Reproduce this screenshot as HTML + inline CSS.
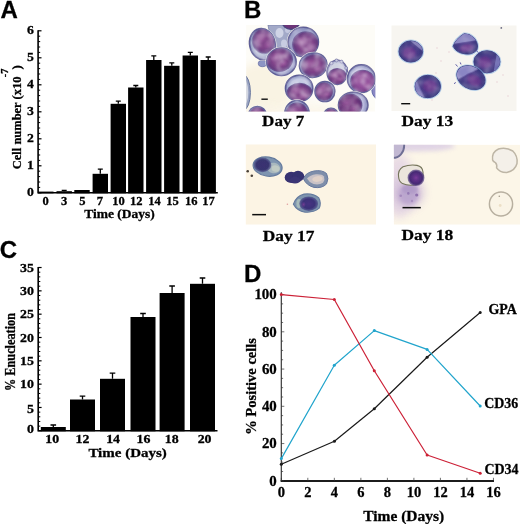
<!DOCTYPE html>
<html><head><meta charset="utf-8"><title>Figure</title>
<style>
html,body{margin:0;padding:0;background:#fff;}
body{width:520px;height:524px;overflow:hidden;font-family:"Liberation Serif",serif;}
svg{display:block;}
text{stroke:#000;stroke-width:0.28px;}
</style></head><body>
<svg width="520" height="524" viewBox="0 0 520 524">
<rect width="520" height="524" fill="#fff"/>
<defs><filter id="soft" x="0" y="0" width="100%" height="100%" filterUnits="userSpaceOnUse"><feGaussianBlur stdDeviation="0.38"/></filter></defs>
<g filter="url(#soft)">
<text x="0.4" y="17.6" font-family='"Liberation Sans", sans-serif' font-weight="bold" font-size="24" text-anchor="start" >A</text>
<text x="243.9" y="17.7" font-family='"Liberation Sans", sans-serif' font-weight="bold" font-size="24" text-anchor="start" >B</text>
<text x="-0.2" y="258.4" font-family='"Liberation Sans", sans-serif' font-weight="bold" font-size="24" text-anchor="start" >C</text>
<text x="244" y="281.7" font-family='"Liberation Sans", sans-serif' font-weight="bold" font-size="24" text-anchor="start" >D</text>
<g id="pa">
<path d="M38.1 30.20000000000001 V192.8 H217.8" stroke="#000" stroke-width="1.6" fill="none"/>
<line x1="38.1" x2="41.5" y1="192.80" y2="192.80" stroke="#000" stroke-width="1.2"/>
<line x1="38.1" x2="40.2" y1="187.40" y2="187.40" stroke="#000" stroke-width="1.0"/>
<line x1="38.1" x2="40.2" y1="182.00" y2="182.00" stroke="#000" stroke-width="1.0"/>
<line x1="38.1" x2="40.2" y1="176.60" y2="176.60" stroke="#000" stroke-width="1.0"/>
<line x1="38.1" x2="40.2" y1="171.20" y2="171.20" stroke="#000" stroke-width="1.0"/>
<line x1="38.1" x2="41.5" y1="165.80" y2="165.80" stroke="#000" stroke-width="1.2"/>
<line x1="38.1" x2="40.2" y1="160.40" y2="160.40" stroke="#000" stroke-width="1.0"/>
<line x1="38.1" x2="40.2" y1="155.00" y2="155.00" stroke="#000" stroke-width="1.0"/>
<line x1="38.1" x2="40.2" y1="149.60" y2="149.60" stroke="#000" stroke-width="1.0"/>
<line x1="38.1" x2="40.2" y1="144.20" y2="144.20" stroke="#000" stroke-width="1.0"/>
<line x1="38.1" x2="41.5" y1="138.80" y2="138.80" stroke="#000" stroke-width="1.2"/>
<line x1="38.1" x2="40.2" y1="133.40" y2="133.40" stroke="#000" stroke-width="1.0"/>
<line x1="38.1" x2="40.2" y1="128.00" y2="128.00" stroke="#000" stroke-width="1.0"/>
<line x1="38.1" x2="40.2" y1="122.60" y2="122.60" stroke="#000" stroke-width="1.0"/>
<line x1="38.1" x2="40.2" y1="117.20" y2="117.20" stroke="#000" stroke-width="1.0"/>
<line x1="38.1" x2="41.5" y1="111.80" y2="111.80" stroke="#000" stroke-width="1.2"/>
<line x1="38.1" x2="40.2" y1="106.40" y2="106.40" stroke="#000" stroke-width="1.0"/>
<line x1="38.1" x2="40.2" y1="101.00" y2="101.00" stroke="#000" stroke-width="1.0"/>
<line x1="38.1" x2="40.2" y1="95.60" y2="95.60" stroke="#000" stroke-width="1.0"/>
<line x1="38.1" x2="40.2" y1="90.20" y2="90.20" stroke="#000" stroke-width="1.0"/>
<line x1="38.1" x2="41.5" y1="84.80" y2="84.80" stroke="#000" stroke-width="1.2"/>
<line x1="38.1" x2="40.2" y1="79.40" y2="79.40" stroke="#000" stroke-width="1.0"/>
<line x1="38.1" x2="40.2" y1="74.00" y2="74.00" stroke="#000" stroke-width="1.0"/>
<line x1="38.1" x2="40.2" y1="68.60" y2="68.60" stroke="#000" stroke-width="1.0"/>
<line x1="38.1" x2="40.2" y1="63.20" y2="63.20" stroke="#000" stroke-width="1.0"/>
<line x1="38.1" x2="41.5" y1="57.80" y2="57.80" stroke="#000" stroke-width="1.2"/>
<line x1="38.1" x2="40.2" y1="52.40" y2="52.40" stroke="#000" stroke-width="1.0"/>
<line x1="38.1" x2="40.2" y1="47.00" y2="47.00" stroke="#000" stroke-width="1.0"/>
<line x1="38.1" x2="40.2" y1="41.60" y2="41.60" stroke="#000" stroke-width="1.0"/>
<line x1="38.1" x2="40.2" y1="36.20" y2="36.20" stroke="#000" stroke-width="1.0"/>
<line x1="38.1" x2="41.5" y1="30.80" y2="30.80" stroke="#000" stroke-width="1.2"/>
<text transform="translate(33.8,195.7) scale(1.1,1)" font-family='"Liberation Serif", serif' font-weight="bold" font-size="12.5" text-anchor="end" >0</text>
<text transform="translate(33.8,168.7) scale(1.1,1)" font-family='"Liberation Serif", serif' font-weight="bold" font-size="12.5" text-anchor="end" >1</text>
<text transform="translate(33.8,141.7) scale(1.1,1)" font-family='"Liberation Serif", serif' font-weight="bold" font-size="12.5" text-anchor="end" >2</text>
<text transform="translate(33.8,114.7) scale(1.1,1)" font-family='"Liberation Serif", serif' font-weight="bold" font-size="12.5" text-anchor="end" >3</text>
<text transform="translate(33.8,87.7) scale(1.1,1)" font-family='"Liberation Serif", serif' font-weight="bold" font-size="12.5" text-anchor="end" >4</text>
<text transform="translate(33.8,60.7) scale(1.1,1)" font-family='"Liberation Serif", serif' font-weight="bold" font-size="12.5" text-anchor="end" >5</text>
<text transform="translate(33.8,33.7) scale(1.1,1)" font-family='"Liberation Serif", serif' font-weight="bold" font-size="12.5" text-anchor="end" >6</text>
<rect x="38.1" y="191.6" width="15.4" height="1.70" fill="#000"/>
<rect x="56.5" y="191.2" width="15.4" height="2.10" fill="#000"/>
<path d="M64.20 191.2 V190.4 M61.70 190.4 H66.70" stroke="#000" stroke-width="1.3" fill="none"/>
<rect x="74.3" y="190.0" width="15.4" height="3.30" fill="#000"/>
<rect x="92.6" y="173.8" width="15.4" height="19.50" fill="#000"/>
<path d="M100.30 173.8 V169.2 M97.80 169.2 H102.80" stroke="#000" stroke-width="1.3" fill="none"/>
<rect x="110.6" y="103.8" width="15.4" height="89.50" fill="#000"/>
<path d="M118.30 103.8 V101.2 M115.80 101.2 H120.80" stroke="#000" stroke-width="1.3" fill="none"/>
<rect x="128.1" y="87.5" width="15.4" height="105.80" fill="#000"/>
<path d="M135.80 87.5 V85.5 M133.30 85.5 H138.30" stroke="#000" stroke-width="1.3" fill="none"/>
<rect x="146.1" y="60.0" width="15.4" height="133.30" fill="#000"/>
<path d="M153.80 60.0 V55.8 M151.30 55.8 H156.30" stroke="#000" stroke-width="1.3" fill="none"/>
<rect x="164.1" y="65.8" width="15.4" height="127.50" fill="#000"/>
<path d="M171.80 65.8 V62.8 M169.30 62.8 H174.30" stroke="#000" stroke-width="1.3" fill="none"/>
<rect x="182.6" y="55.5" width="15.4" height="137.80" fill="#000"/>
<path d="M190.30 55.5 V52.3 M187.80 52.3 H192.80" stroke="#000" stroke-width="1.3" fill="none"/>
<rect x="200.5" y="60.0" width="15.4" height="133.30" fill="#000"/>
<path d="M208.20 60.0 V57.0 M205.70 57.0 H210.70" stroke="#000" stroke-width="1.3" fill="none"/>
<text transform="translate(45.6,204.6) scale(1.08,1)" font-family='"Liberation Serif", serif' font-weight="bold" font-size="11.6" text-anchor="middle" >0</text>
<text transform="translate(64.2,204.6) scale(1.08,1)" font-family='"Liberation Serif", serif' font-weight="bold" font-size="11.6" text-anchor="middle" >3</text>
<text transform="translate(82.3,204.6) scale(1.08,1)" font-family='"Liberation Serif", serif' font-weight="bold" font-size="11.6" text-anchor="middle" >5</text>
<text transform="translate(100.0,204.6) scale(1.08,1)" font-family='"Liberation Serif", serif' font-weight="bold" font-size="11.6" text-anchor="middle" >7</text>
<text transform="translate(118.4,204.6) scale(1.08,1)" font-family='"Liberation Serif", serif' font-weight="bold" font-size="11.6" text-anchor="middle" >10</text>
<text transform="translate(136.2,204.6) scale(1.08,1)" font-family='"Liberation Serif", serif' font-weight="bold" font-size="11.6" text-anchor="middle" >12</text>
<text transform="translate(154.5,204.6) scale(1.08,1)" font-family='"Liberation Serif", serif' font-weight="bold" font-size="11.6" text-anchor="middle" >14</text>
<text transform="translate(172.6,204.6) scale(1.08,1)" font-family='"Liberation Serif", serif' font-weight="bold" font-size="11.6" text-anchor="middle" >15</text>
<text transform="translate(191.2,204.6) scale(1.08,1)" font-family='"Liberation Serif", serif' font-weight="bold" font-size="11.6" text-anchor="middle" >16</text>
<text transform="translate(208.6,204.6) scale(1.08,1)" font-family='"Liberation Serif", serif' font-weight="bold" font-size="11.6" text-anchor="middle" >17</text>
<text x="84.2" y="218.2" font-family='"Liberation Serif", serif' font-weight="bold" font-size="12.6" text-anchor="start" textLength="70.6" lengthAdjust="spacingAndGlyphs">Time (Days)</text>
<text transform="translate(20.7,169.2) rotate(-90)" font-family='"Liberation Serif", serif' font-weight="bold" font-size="13" textLength="92.6" lengthAdjust="spacingAndGlyphs">Cell number (x10</text>
<text transform="translate(8.3,77.3) rotate(-90)" font-family='"Liberation Serif", serif' font-weight="bold" font-size="9.5" textLength="8.6" lengthAdjust="spacingAndGlyphs">-7</text>
<text transform="translate(20.7,69.6) rotate(-90)" font-family='"Liberation Serif", serif' font-weight="bold" font-size="13">)</text>
</g>
<g id="pc">
<path d="M38.2 266.92 V430.8 H217.5" stroke="#000" stroke-width="1.6" fill="none"/>
<line x1="38.2" x2="41.6" y1="430.80" y2="430.80" stroke="#000" stroke-width="1.2"/>
<line x1="38.2" x2="40.300000000000004" y1="426.13" y2="426.13" stroke="#000" stroke-width="1.0"/>
<line x1="38.2" x2="40.300000000000004" y1="421.47" y2="421.47" stroke="#000" stroke-width="1.0"/>
<line x1="38.2" x2="40.300000000000004" y1="416.81" y2="416.81" stroke="#000" stroke-width="1.0"/>
<line x1="38.2" x2="40.300000000000004" y1="412.14" y2="412.14" stroke="#000" stroke-width="1.0"/>
<line x1="38.2" x2="41.6" y1="407.48" y2="407.48" stroke="#000" stroke-width="1.2"/>
<line x1="38.2" x2="40.300000000000004" y1="402.81" y2="402.81" stroke="#000" stroke-width="1.0"/>
<line x1="38.2" x2="40.300000000000004" y1="398.14" y2="398.14" stroke="#000" stroke-width="1.0"/>
<line x1="38.2" x2="40.300000000000004" y1="393.48" y2="393.48" stroke="#000" stroke-width="1.0"/>
<line x1="38.2" x2="40.300000000000004" y1="388.81" y2="388.81" stroke="#000" stroke-width="1.0"/>
<line x1="38.2" x2="41.6" y1="384.15" y2="384.15" stroke="#000" stroke-width="1.2"/>
<line x1="38.2" x2="40.300000000000004" y1="379.49" y2="379.49" stroke="#000" stroke-width="1.0"/>
<line x1="38.2" x2="40.300000000000004" y1="374.82" y2="374.82" stroke="#000" stroke-width="1.0"/>
<line x1="38.2" x2="40.300000000000004" y1="370.16" y2="370.16" stroke="#000" stroke-width="1.0"/>
<line x1="38.2" x2="40.300000000000004" y1="365.49" y2="365.49" stroke="#000" stroke-width="1.0"/>
<line x1="38.2" x2="41.6" y1="360.83" y2="360.83" stroke="#000" stroke-width="1.2"/>
<line x1="38.2" x2="40.300000000000004" y1="356.16" y2="356.16" stroke="#000" stroke-width="1.0"/>
<line x1="38.2" x2="40.300000000000004" y1="351.50" y2="351.50" stroke="#000" stroke-width="1.0"/>
<line x1="38.2" x2="40.300000000000004" y1="346.83" y2="346.83" stroke="#000" stroke-width="1.0"/>
<line x1="38.2" x2="40.300000000000004" y1="342.17" y2="342.17" stroke="#000" stroke-width="1.0"/>
<line x1="38.2" x2="41.6" y1="337.50" y2="337.50" stroke="#000" stroke-width="1.2"/>
<line x1="38.2" x2="40.300000000000004" y1="332.84" y2="332.84" stroke="#000" stroke-width="1.0"/>
<line x1="38.2" x2="40.300000000000004" y1="328.17" y2="328.17" stroke="#000" stroke-width="1.0"/>
<line x1="38.2" x2="40.300000000000004" y1="323.50" y2="323.50" stroke="#000" stroke-width="1.0"/>
<line x1="38.2" x2="40.300000000000004" y1="318.84" y2="318.84" stroke="#000" stroke-width="1.0"/>
<line x1="38.2" x2="41.6" y1="314.18" y2="314.18" stroke="#000" stroke-width="1.2"/>
<line x1="38.2" x2="40.300000000000004" y1="309.51" y2="309.51" stroke="#000" stroke-width="1.0"/>
<line x1="38.2" x2="40.300000000000004" y1="304.85" y2="304.85" stroke="#000" stroke-width="1.0"/>
<line x1="38.2" x2="40.300000000000004" y1="300.18" y2="300.18" stroke="#000" stroke-width="1.0"/>
<line x1="38.2" x2="40.300000000000004" y1="295.51" y2="295.51" stroke="#000" stroke-width="1.0"/>
<line x1="38.2" x2="41.6" y1="290.85" y2="290.85" stroke="#000" stroke-width="1.2"/>
<line x1="38.2" x2="40.300000000000004" y1="286.19" y2="286.19" stroke="#000" stroke-width="1.0"/>
<line x1="38.2" x2="40.300000000000004" y1="281.52" y2="281.52" stroke="#000" stroke-width="1.0"/>
<line x1="38.2" x2="40.300000000000004" y1="276.86" y2="276.86" stroke="#000" stroke-width="1.0"/>
<line x1="38.2" x2="40.300000000000004" y1="272.19" y2="272.19" stroke="#000" stroke-width="1.0"/>
<line x1="38.2" x2="41.6" y1="267.52" y2="267.52" stroke="#000" stroke-width="1.2"/>
<text transform="translate(34.0,433.3) scale(1.15,1)" font-family='"Liberation Serif", serif' font-weight="bold" font-size="12.1" text-anchor="end" >0</text>
<text transform="translate(34.0,412.68) scale(1.15,1)" font-family='"Liberation Serif", serif' font-weight="bold" font-size="12.1" text-anchor="end" >5</text>
<text transform="translate(34.0,388.15) scale(1.15,1)" font-family='"Liberation Serif", serif' font-weight="bold" font-size="12.1" text-anchor="end" >10</text>
<text transform="translate(34.0,364.83) scale(1.15,1)" font-family='"Liberation Serif", serif' font-weight="bold" font-size="12.1" text-anchor="end" >15</text>
<text transform="translate(34.0,341.5) scale(1.15,1)" font-family='"Liberation Serif", serif' font-weight="bold" font-size="12.1" text-anchor="end" >20</text>
<text transform="translate(34.0,318.18) scale(1.15,1)" font-family='"Liberation Serif", serif' font-weight="bold" font-size="12.1" text-anchor="end" >25</text>
<text transform="translate(34.0,294.85) scale(1.15,1)" font-family='"Liberation Serif", serif' font-weight="bold" font-size="12.1" text-anchor="end" >30</text>
<text transform="translate(34.0,271.52) scale(1.15,1)" font-family='"Liberation Serif", serif' font-weight="bold" font-size="12.1" text-anchor="end" >35</text>
<rect x="40.8" y="427.0" width="25" height="4.30" fill="#000"/>
<path d="M53.30 427.0 V425.0 M50.50 425.0 H56.10" stroke="#000" stroke-width="1.3" fill="none"/>
<rect x="70.0" y="399.5" width="25" height="31.80" fill="#000"/>
<path d="M82.50 399.5 V396.2 M79.70 396.2 H85.30" stroke="#000" stroke-width="1.3" fill="none"/>
<rect x="100.0" y="378.8" width="25" height="52.50" fill="#000"/>
<path d="M112.50 378.8 V373.2 M109.70 373.2 H115.30" stroke="#000" stroke-width="1.3" fill="none"/>
<rect x="130.5" y="317.0" width="25" height="114.30" fill="#000"/>
<path d="M143.00 317.0 V313.5 M140.20 313.5 H145.80" stroke="#000" stroke-width="1.3" fill="none"/>
<rect x="159.6" y="293.0" width="25" height="138.30" fill="#000"/>
<path d="M172.10 293.0 V286.0 M169.30 286.0 H174.90" stroke="#000" stroke-width="1.3" fill="none"/>
<rect x="190.0" y="283.8" width="25" height="147.50" fill="#000"/>
<path d="M202.50 283.8 V278.0 M199.70 278.0 H205.30" stroke="#000" stroke-width="1.3" fill="none"/>
<text transform="translate(52.3,442.9) scale(1.15,1)" font-family='"Liberation Serif", serif' font-weight="bold" font-size="12.1" text-anchor="middle" >10</text>
<text transform="translate(82.4,442.9) scale(1.15,1)" font-family='"Liberation Serif", serif' font-weight="bold" font-size="12.1" text-anchor="middle" >12</text>
<text transform="translate(113.1,442.9) scale(1.15,1)" font-family='"Liberation Serif", serif' font-weight="bold" font-size="12.1" text-anchor="middle" >14</text>
<text transform="translate(143.4,442.9) scale(1.15,1)" font-family='"Liberation Serif", serif' font-weight="bold" font-size="12.1" text-anchor="middle" >16</text>
<text transform="translate(171.8,442.9) scale(1.15,1)" font-family='"Liberation Serif", serif' font-weight="bold" font-size="12.1" text-anchor="middle" >18</text>
<text transform="translate(204.6,442.9) scale(1.15,1)" font-family='"Liberation Serif", serif' font-weight="bold" font-size="12.1" text-anchor="middle" >20</text>
<text x="88.4" y="456.9" font-family='"Liberation Serif", serif' font-weight="bold" font-size="13.2" text-anchor="start" textLength="78.4" lengthAdjust="spacingAndGlyphs">Time (Days)</text>
<text transform="translate(15.4,391) rotate(-90)" font-family='"Liberation Serif", serif' font-weight="bold" font-size="13.6" textLength="78" lengthAdjust="spacingAndGlyphs">% Enucleation</text>
</g>
<g id="pd">
<path d="M281.3 292.35 V480.8" stroke="#303030" stroke-width="1.15" fill="none"/>
<path d="M280.6 481.0 H494" stroke="#1c1c1c" stroke-width="1.9" fill="none"/>
<line x1="281.3" x2="284.3" y1="480.8" y2="480.8" stroke="#333" stroke-width="0.7"/>
<line x1="281.3" x2="283.1" y1="471.49" y2="471.49" stroke="#333" stroke-width="0.7"/>
<line x1="281.3" x2="283.1" y1="462.18" y2="462.18" stroke="#333" stroke-width="0.7"/>
<line x1="281.3" x2="283.1" y1="452.86" y2="452.86" stroke="#333" stroke-width="0.7"/>
<line x1="281.3" x2="284.3" y1="443.55" y2="443.55" stroke="#333" stroke-width="0.7"/>
<line x1="281.3" x2="283.1" y1="434.24" y2="434.24" stroke="#333" stroke-width="0.7"/>
<line x1="281.3" x2="283.1" y1="424.93" y2="424.93" stroke="#333" stroke-width="0.7"/>
<line x1="281.3" x2="283.1" y1="415.61" y2="415.61" stroke="#333" stroke-width="0.7"/>
<line x1="281.3" x2="284.3" y1="406.3" y2="406.3" stroke="#333" stroke-width="0.7"/>
<line x1="281.3" x2="283.1" y1="396.99" y2="396.99" stroke="#333" stroke-width="0.7"/>
<line x1="281.3" x2="283.1" y1="387.68" y2="387.68" stroke="#333" stroke-width="0.7"/>
<line x1="281.3" x2="283.1" y1="378.36" y2="378.36" stroke="#333" stroke-width="0.7"/>
<line x1="281.3" x2="284.3" y1="369.05" y2="369.05" stroke="#333" stroke-width="0.7"/>
<line x1="281.3" x2="283.1" y1="359.74" y2="359.74" stroke="#333" stroke-width="0.7"/>
<line x1="281.3" x2="283.1" y1="350.43" y2="350.43" stroke="#333" stroke-width="0.7"/>
<line x1="281.3" x2="283.1" y1="341.11" y2="341.11" stroke="#333" stroke-width="0.7"/>
<line x1="281.3" x2="284.3" y1="331.8" y2="331.8" stroke="#333" stroke-width="0.7"/>
<line x1="281.3" x2="283.1" y1="322.49" y2="322.49" stroke="#333" stroke-width="0.7"/>
<line x1="281.3" x2="283.1" y1="313.18" y2="313.18" stroke="#333" stroke-width="0.7"/>
<line x1="281.3" x2="283.1" y1="303.86" y2="303.86" stroke="#333" stroke-width="0.7"/>
<line x1="281.3" x2="284.3" y1="294.55" y2="294.55" stroke="#333" stroke-width="0.7"/>
<line x1="281.3" x2="281.3" y1="480.8" y2="477.8" stroke="#333" stroke-width="0.7"/>
<line x1="307.82" x2="307.82" y1="480.8" y2="477.8" stroke="#333" stroke-width="0.7"/>
<line x1="334.34" x2="334.34" y1="480.8" y2="477.8" stroke="#333" stroke-width="0.7"/>
<line x1="360.86" x2="360.86" y1="480.8" y2="477.8" stroke="#333" stroke-width="0.7"/>
<line x1="387.38" x2="387.38" y1="480.8" y2="477.8" stroke="#333" stroke-width="0.7"/>
<line x1="413.9" x2="413.9" y1="480.8" y2="477.8" stroke="#333" stroke-width="0.7"/>
<line x1="440.42" x2="440.42" y1="480.8" y2="477.8" stroke="#333" stroke-width="0.7"/>
<line x1="466.94" x2="466.94" y1="480.8" y2="477.8" stroke="#333" stroke-width="0.7"/>
<line x1="493.46" x2="493.46" y1="480.8" y2="477.8" stroke="#333" stroke-width="0.7"/>
<text transform="translate(276.8,485.6) scale(1.03,1)" font-family='"Liberation Serif", serif' font-weight="bold" font-size="14.5" text-anchor="end" >0</text>
<text transform="translate(276.8,448.35) scale(1.03,1)" font-family='"Liberation Serif", serif' font-weight="bold" font-size="14.5" text-anchor="end" >20</text>
<text transform="translate(276.8,411.1) scale(1.03,1)" font-family='"Liberation Serif", serif' font-weight="bold" font-size="14.5" text-anchor="end" >40</text>
<text transform="translate(276.8,373.85) scale(1.03,1)" font-family='"Liberation Serif", serif' font-weight="bold" font-size="14.5" text-anchor="end" >60</text>
<text transform="translate(276.8,336.6) scale(1.03,1)" font-family='"Liberation Serif", serif' font-weight="bold" font-size="14.5" text-anchor="end" >80</text>
<text transform="translate(276.8,299.35) scale(1.03,1)" font-family='"Liberation Serif", serif' font-weight="bold" font-size="14.5" text-anchor="end" >100</text>
<text x="281.3" y="496.6" font-family='"Liberation Serif", serif' font-weight="bold" font-size="14.5" text-anchor="middle" >0</text>
<text x="307.82" y="496.6" font-family='"Liberation Serif", serif' font-weight="bold" font-size="14.5" text-anchor="middle" >2</text>
<text x="334.34" y="496.6" font-family='"Liberation Serif", serif' font-weight="bold" font-size="14.5" text-anchor="middle" >4</text>
<text x="360.86" y="496.6" font-family='"Liberation Serif", serif' font-weight="bold" font-size="14.5" text-anchor="middle" >6</text>
<text x="387.38" y="496.6" font-family='"Liberation Serif", serif' font-weight="bold" font-size="14.5" text-anchor="middle" >8</text>
<text x="413.9" y="496.6" font-family='"Liberation Serif", serif' font-weight="bold" font-size="14.5" text-anchor="middle" >10</text>
<text x="440.42" y="496.6" font-family='"Liberation Serif", serif' font-weight="bold" font-size="14.5" text-anchor="middle" >12</text>
<text x="466.94" y="496.6" font-family='"Liberation Serif", serif' font-weight="bold" font-size="14.5" text-anchor="middle" >14</text>
<text x="493.46" y="496.6" font-family='"Liberation Serif", serif' font-weight="bold" font-size="14.5" text-anchor="middle" >16</text>
<text x="363.2" y="520.5" font-family='"Liberation Serif", serif' font-weight="bold" font-size="13.8" text-anchor="start" textLength="81" lengthAdjust="spacingAndGlyphs">Time (Days)</text>
<text transform="translate(256.2,434.8) rotate(-90)" font-family='"Liberation Serif", serif' font-weight="bold" font-size="14.5" textLength="96.8" lengthAdjust="spacingAndGlyphs">% Positive cells</text>
<path d="M281.3 464.2 L334.4 441.3 L374.3 408.8 L427.1 357.2 L480.2 312.5" stroke="#1a1a1a" stroke-width="1.2" fill="none" stroke-linejoin="round"/>
<circle cx="281.3" cy="464.2" r="1.5" fill="#1a1a1a"/>
<circle cx="334.4" cy="441.3" r="1.5" fill="#1a1a1a"/>
<circle cx="374.3" cy="408.8" r="1.5" fill="#1a1a1a"/>
<circle cx="427.1" cy="357.2" r="1.5" fill="#1a1a1a"/>
<circle cx="480.2" cy="312.5" r="1.5" fill="#1a1a1a"/>
<path d="M281.3 458.6 L334.3 365.3 L374.3 330.6 L427.1 349.4 L480.2 406.0" stroke="#20a4cc" stroke-width="1.2" fill="none" stroke-linejoin="round"/>
<circle cx="281.3" cy="458.6" r="1.5" fill="#20a4cc"/>
<circle cx="334.3" cy="365.3" r="1.5" fill="#20a4cc"/>
<circle cx="374.3" cy="330.6" r="1.5" fill="#20a4cc"/>
<circle cx="427.1" cy="349.4" r="1.5" fill="#20a4cc"/>
<circle cx="480.2" cy="406.0" r="1.5" fill="#20a4cc"/>
<path d="M281.3 294.6 L334.3 299.5 L374.3 370.7 L427.1 455.0 L480.2 473.2" stroke="#cc2036" stroke-width="1.2" fill="none" stroke-linejoin="round"/>
<circle cx="281.3" cy="294.6" r="1.5" fill="#cc2036"/>
<circle cx="334.3" cy="299.5" r="1.5" fill="#cc2036"/>
<circle cx="374.3" cy="370.7" r="1.5" fill="#cc2036"/>
<circle cx="427.1" cy="455.0" r="1.5" fill="#cc2036"/>
<circle cx="480.2" cy="473.2" r="1.5" fill="#cc2036"/>
<text x="488.5" y="314.4" font-family='"Liberation Serif", serif' font-weight="bold" font-size="14" text-anchor="start" textLength="28.4" lengthAdjust="spacingAndGlyphs">GPA</text>
<text x="484.2" y="408.4" font-family='"Liberation Serif", serif' font-weight="bold" font-size="14" text-anchor="start" textLength="34" lengthAdjust="spacingAndGlyphs">CD36</text>
<text x="484.4" y="474.3" font-family='"Liberation Serif", serif' font-weight="bold" font-size="14" text-anchor="start" textLength="34.2" lengthAdjust="spacingAndGlyphs">CD34</text>
</g>
<defs><filter id="b05" x="-20%" y="-20%" width="140%" height="140%"><feGaussianBlur stdDeviation="0.7"/></filter><filter id="b1" x="-30%" y="-30%" width="160%" height="160%"><feGaussianBlur stdDeviation="1.1"/></filter><filter id="b2" x="-40%" y="-40%" width="180%" height="180%"><feGaussianBlur stdDeviation="2.2"/></filter><filter id="noise" x="0" y="0" width="100%" height="100%"><feTurbulence type="fractalNoise" baseFrequency="0.13" numOctaves="2" seed="7"/><feColorMatrix type="matrix" values="0 0 0 0 0.86  0 0 0 0 0.80  0 0 0 0 0.90  1.1 0 0 0 -0.40"/><feGaussianBlur stdDeviation="0.8"/></filter><filter id="b4" x="-50%" y="-50%" width="200%" height="200%"><feGaussianBlur stdDeviation="4"/></filter><clipPath id="c7"><rect x="246.2" y="25.1" width="129.2" height="86.3"/></clipPath><radialGradient id="g1" cx="0.5" cy="0.5" r="0.5"><stop offset="0" stop-color="#b8c2d8"/><stop offset="0.7" stop-color="#b8c2d8"/><stop offset="1" stop-color="#8088b8"/></radialGradient><radialGradient id="g2" cx="0.5" cy="0.5" r="0.5"><stop offset="0" stop-color="#82448a"/><stop offset="0.5" stop-color="#82448a"/><stop offset="0.85" stop-color="#683c80"/><stop offset="1" stop-color="#5c4c8c" stop-opacity="0.9"/></radialGradient><clipPath id="cc2"><ellipse cx="262.4" cy="44.2" rx="12.5" ry="15.5" transform="rotate(-12 262.4 44.2)"/></clipPath><radialGradient id="g3" cx="0.5" cy="0.5" r="0.5"><stop offset="0" stop-color="#a05ea2" stop-opacity="0.75"/><stop offset="1" stop-color="#a05ea2" stop-opacity="0"/></radialGradient><radialGradient id="g4" cx="0.5" cy="0.5" r="0.5"><stop offset="0" stop-color="#9a9ec8"/><stop offset="0.7" stop-color="#9a9ec8"/><stop offset="1" stop-color="#8088b8"/></radialGradient><radialGradient id="g5" cx="0.5" cy="0.5" r="0.5"><stop offset="0" stop-color="#82448a"/><stop offset="0.5" stop-color="#82448a"/><stop offset="0.85" stop-color="#683c80"/><stop offset="1" stop-color="#5c4c8c" stop-opacity="0.9"/></radialGradient><clipPath id="cc5"><ellipse cx="303.3" cy="41.9" rx="14.9" ry="14.5"/></clipPath><radialGradient id="g6" cx="0.5" cy="0.5" r="0.5"><stop offset="0" stop-color="#a05ea2" stop-opacity="0.75"/><stop offset="1" stop-color="#a05ea2" stop-opacity="0"/></radialGradient><radialGradient id="g7" cx="0.5" cy="0.5" r="0.5"><stop offset="0" stop-color="#b6bada"/><stop offset="0.7" stop-color="#b6bada"/><stop offset="1" stop-color="#8088b8"/></radialGradient><radialGradient id="g8" cx="0.5" cy="0.5" r="0.5"><stop offset="0" stop-color="#82448a"/><stop offset="0.5" stop-color="#82448a"/><stop offset="0.85" stop-color="#683c80"/><stop offset="1" stop-color="#5c4c8c" stop-opacity="0.9"/></radialGradient><clipPath id="cc8"><ellipse cx="281.4" cy="61.8" rx="14.5" ry="13.5"/></clipPath><radialGradient id="g9" cx="0.5" cy="0.5" r="0.5"><stop offset="0" stop-color="#a05ea2" stop-opacity="0.75"/><stop offset="1" stop-color="#a05ea2" stop-opacity="0"/></radialGradient><radialGradient id="g10" cx="0.5" cy="0.5" r="0.5"><stop offset="0" stop-color="#a6aed0"/><stop offset="0.7" stop-color="#a6aed0"/><stop offset="1" stop-color="#8088b8"/></radialGradient><radialGradient id="g11" cx="0.5" cy="0.5" r="0.5"><stop offset="0" stop-color="#82448a"/><stop offset="0.5" stop-color="#82448a"/><stop offset="0.85" stop-color="#683c80"/><stop offset="1" stop-color="#5c4c8c" stop-opacity="0.9"/></radialGradient><clipPath id="cc11"><ellipse cx="313.2" cy="65.2" rx="13.5" ry="11.9" transform="rotate(-12 313.2 65.2)"/></clipPath><radialGradient id="g12" cx="0.5" cy="0.5" r="0.5"><stop offset="0" stop-color="#a05ea2" stop-opacity="0.75"/><stop offset="1" stop-color="#a05ea2" stop-opacity="0"/></radialGradient><radialGradient id="g13" cx="0.5" cy="0.5" r="0.5"><stop offset="0" stop-color="#c0c6e2"/><stop offset="0.7" stop-color="#c0c6e2"/><stop offset="1" stop-color="#8088b8"/></radialGradient><radialGradient id="g14" cx="0.5" cy="0.5" r="0.5"><stop offset="0" stop-color="#82448a"/><stop offset="0.5" stop-color="#82448a"/><stop offset="0.85" stop-color="#683c80"/><stop offset="1" stop-color="#5c4c8c" stop-opacity="0.9"/></radialGradient><clipPath id="cc14"><ellipse cx="299.1" cy="88.4" rx="13.4" ry="13.0"/></clipPath><radialGradient id="g15" cx="0.5" cy="0.5" r="0.5"><stop offset="0" stop-color="#a05ea2" stop-opacity="0.75"/><stop offset="1" stop-color="#a05ea2" stop-opacity="0"/></radialGradient><radialGradient id="g16" cx="0.5" cy="0.5" r="0.5"><stop offset="0" stop-color="#a6aed0"/><stop offset="0.7" stop-color="#a6aed0"/><stop offset="1" stop-color="#8088b8"/></radialGradient><radialGradient id="g17" cx="0.5" cy="0.5" r="0.5"><stop offset="0" stop-color="#82448a"/><stop offset="0.5" stop-color="#82448a"/><stop offset="0.85" stop-color="#683c80"/><stop offset="1" stop-color="#5c4c8c" stop-opacity="0.9"/></radialGradient><clipPath id="cc17"><ellipse cx="297.0" cy="113.4" rx="11.9" ry="12.7"/></clipPath><radialGradient id="g18" cx="0.5" cy="0.5" r="0.5"><stop offset="0" stop-color="#a05ea2" stop-opacity="0.75"/><stop offset="1" stop-color="#a05ea2" stop-opacity="0"/></radialGradient><radialGradient id="g19" cx="0.5" cy="0.5" r="0.5"><stop offset="0" stop-color="#cfd3e2"/><stop offset="0.7" stop-color="#cfd3e2"/><stop offset="1" stop-color="#a4acd0"/></radialGradient><radialGradient id="g20" cx="0.5" cy="0.5" r="0.5"><stop offset="0" stop-color="#82448a"/><stop offset="0.5" stop-color="#82448a"/><stop offset="0.85" stop-color="#683c80"/><stop offset="1" stop-color="#5c4c8c" stop-opacity="0.9"/></radialGradient><clipPath id="cc20"><ellipse cx="337.2" cy="72.3" rx="9.8" ry="11.9"/></clipPath><radialGradient id="g21" cx="0.5" cy="0.5" r="0.5"><stop offset="0" stop-color="#a05ea2" stop-opacity="0.75"/><stop offset="1" stop-color="#a05ea2" stop-opacity="0"/></radialGradient><radialGradient id="g22" cx="0.5" cy="0.5" r="0.5"><stop offset="0" stop-color="#c4c6e2"/><stop offset="0.7" stop-color="#c4c6e2"/><stop offset="1" stop-color="#8088b8"/></radialGradient><radialGradient id="g23" cx="0.5" cy="0.5" r="0.5"><stop offset="0" stop-color="#92509a"/><stop offset="0.5" stop-color="#92509a"/><stop offset="0.85" stop-color="#783c88"/><stop offset="1" stop-color="#5c4c8c" stop-opacity="0.9"/></radialGradient><clipPath id="cc23"><ellipse cx="361.3" cy="78.7" rx="13.6" ry="13.6"/></clipPath><radialGradient id="g24" cx="0.5" cy="0.5" r="0.5"><stop offset="0" stop-color="#a05ea2" stop-opacity="0.75"/><stop offset="1" stop-color="#a05ea2" stop-opacity="0"/></radialGradient><radialGradient id="g25" cx="0.5" cy="0.5" r="0.5"><stop offset="0" stop-color="#a6aed0"/><stop offset="0.7" stop-color="#a6aed0"/><stop offset="1" stop-color="#8088b8"/></radialGradient><radialGradient id="g26" cx="0.5" cy="0.5" r="0.5"><stop offset="0" stop-color="#82448a"/><stop offset="0.5" stop-color="#82448a"/><stop offset="0.85" stop-color="#683c80"/><stop offset="1" stop-color="#5c4c8c" stop-opacity="0.9"/></radialGradient><clipPath id="cc26"><ellipse cx="324.9" cy="91.5" rx="9.6" ry="9.8"/></clipPath><radialGradient id="g27" cx="0.5" cy="0.5" r="0.5"><stop offset="0" stop-color="#a05ea2" stop-opacity="0.75"/><stop offset="1" stop-color="#a05ea2" stop-opacity="0"/></radialGradient><radialGradient id="g28" cx="0.5" cy="0.5" r="0.5"><stop offset="0" stop-color="#babade"/><stop offset="0.7" stop-color="#babade"/><stop offset="1" stop-color="#8088b8"/></radialGradient><radialGradient id="g29" cx="0.5" cy="0.5" r="0.5"><stop offset="0" stop-color="#763a80"/><stop offset="0.5" stop-color="#763a80"/><stop offset="0.85" stop-color="#603074"/><stop offset="1" stop-color="#5c4c8c" stop-opacity="0.9"/></radialGradient><clipPath id="cc29"><ellipse cx="353.2" cy="105.0" rx="14.5" ry="12.5"/></clipPath><radialGradient id="g30" cx="0.5" cy="0.5" r="0.5"><stop offset="0" stop-color="#a05ea2" stop-opacity="0.75"/><stop offset="1" stop-color="#a05ea2" stop-opacity="0"/></radialGradient><radialGradient id="g31" cx="0.5" cy="0.5" r="0.5"><stop offset="0" stop-color="#a6aed0"/><stop offset="0.7" stop-color="#a6aed0"/><stop offset="1" stop-color="#8088b8"/></radialGradient><radialGradient id="g32" cx="0.5" cy="0.5" r="0.5"><stop offset="0" stop-color="#82448a"/><stop offset="0.5" stop-color="#82448a"/><stop offset="0.85" stop-color="#683c80"/><stop offset="1" stop-color="#5c4c8c" stop-opacity="0.9"/></radialGradient><clipPath id="cc32"><ellipse cx="257.4" cy="114.6" rx="8.5" ry="7.9"/></clipPath><radialGradient id="g33" cx="0.5" cy="0.5" r="0.5"><stop offset="0" stop-color="#a05ea2" stop-opacity="0.75"/><stop offset="1" stop-color="#a05ea2" stop-opacity="0"/></radialGradient><radialGradient id="g34" cx="0.5" cy="0.5" r="0.5"><stop offset="0" stop-color="#a6aed0"/><stop offset="0.7" stop-color="#a6aed0"/><stop offset="1" stop-color="#8088b8"/></radialGradient><radialGradient id="g35" cx="0.5" cy="0.5" r="0.5"><stop offset="0" stop-color="#82448a"/><stop offset="0.5" stop-color="#82448a"/><stop offset="0.85" stop-color="#683c80"/><stop offset="1" stop-color="#5c4c8c" stop-opacity="0.9"/></radialGradient><clipPath id="cc35"><ellipse cx="331.0" cy="115.0" rx="7.0" ry="6.5"/></clipPath><radialGradient id="g36" cx="0.5" cy="0.5" r="0.5"><stop offset="0" stop-color="#a05ea2" stop-opacity="0.75"/><stop offset="1" stop-color="#a05ea2" stop-opacity="0"/></radialGradient><clipPath id="c7cells"><ellipse cx="262.4" cy="44.2" rx="13.0" ry="16.0" fill="#000" transform="rotate(-12 262.4 44.2)"/><ellipse cx="303.3" cy="41.9" rx="15.4" ry="15.0" fill="#000"/><ellipse cx="281.4" cy="61.8" rx="15.0" ry="14.0" fill="#000"/><ellipse cx="313.2" cy="65.2" rx="14.0" ry="12.4" fill="#000" transform="rotate(-12 313.2 65.2)"/><ellipse cx="299.1" cy="88.4" rx="13.9" ry="13.5" fill="#000"/><ellipse cx="297.0" cy="113.4" rx="12.4" ry="13.2" fill="#000"/><ellipse cx="337.2" cy="72.3" rx="10.3" ry="12.4" fill="#000"/><ellipse cx="361.3" cy="78.7" rx="14.1" ry="14.1" fill="#000"/><ellipse cx="324.9" cy="91.5" rx="10.1" ry="10.3" fill="#000"/><ellipse cx="353.2" cy="105.0" rx="15.0" ry="13.0" fill="#000"/><ellipse cx="257.4" cy="114.6" rx="9.0" ry="8.4" fill="#000"/><ellipse cx="331.0" cy="115.0" rx="7.5" ry="7" fill="#000"/></clipPath><clipPath id="c13"><rect x="391.5" y="25.6" width="125.0" height="85.4"/></clipPath><radialGradient id="g37" cx="0.5" cy="0.5" r="0.5"><stop offset="0" stop-color="#52408e"/><stop offset="0.65" stop-color="#463a86"/><stop offset="1" stop-color="#39397c"/></radialGradient><clipPath id="ck37"><ellipse cx="410.8" cy="51.5" rx="11.8" ry="10.6" fill="#000"/></clipPath><radialGradient id="g38" cx="0.5" cy="0.5" r="0.5"><stop offset="0" stop-color="#6e3c90"/><stop offset="0.55" stop-color="#60378a"/><stop offset="1" stop-color="#483a88" stop-opacity="0.0"/></radialGradient><radialGradient id="g39" cx="0.5" cy="0.5" r="0.5"><stop offset="0" stop-color="#52408e"/><stop offset="0.65" stop-color="#463a86"/><stop offset="1" stop-color="#39397c"/></radialGradient><clipPath id="ck39"><ellipse cx="427.8" cy="86.5" rx="12.7" ry="11.2" fill="#000"/></clipPath><radialGradient id="g40" cx="0.5" cy="0.5" r="0.5"><stop offset="0" stop-color="#6e3c90"/><stop offset="0.55" stop-color="#60378a"/><stop offset="1" stop-color="#483a88" stop-opacity="0.0"/></radialGradient><radialGradient id="g41" cx="0.5" cy="0.5" r="0.5"><stop offset="0" stop-color="#52408e"/><stop offset="0.65" stop-color="#463a86"/><stop offset="1" stop-color="#39397c"/></radialGradient><clipPath id="ck41"><path d="M453.2 46.3 Q455.5 39 464.2 33.8 Q470 33.5 474.5 38.5 Q479 44.5 476.8 50 Q472 55 465.5 53.9 Q456 52.8 453.2 46.3 Z" fill="#000"/></clipPath><radialGradient id="g42" cx="0.5" cy="0.5" r="0.5"><stop offset="0" stop-color="#6e3c90"/><stop offset="0.55" stop-color="#60378a"/><stop offset="1" stop-color="#483a88" stop-opacity="0.0"/></radialGradient><radialGradient id="g43" cx="0.5" cy="0.5" r="0.5"><stop offset="0" stop-color="#52408e"/><stop offset="0.65" stop-color="#463a86"/><stop offset="1" stop-color="#39397c"/></radialGradient><clipPath id="ck43"><ellipse cx="486.9" cy="61.8" rx="13.0" ry="11.0" fill="#000"/></clipPath><radialGradient id="g44" cx="0.5" cy="0.5" r="0.5"><stop offset="0" stop-color="#6e3c90"/><stop offset="0.55" stop-color="#60378a"/><stop offset="1" stop-color="#483a88" stop-opacity="0.0"/></radialGradient><radialGradient id="g45" cx="0.5" cy="0.5" r="0.5"><stop offset="0" stop-color="#52408e"/><stop offset="0.65" stop-color="#463a86"/><stop offset="1" stop-color="#39397c"/></radialGradient><clipPath id="ck45"><ellipse cx="471.0" cy="77.7" rx="14.8" ry="10.9" fill="#000" transform="rotate(28 471.0 77.7)"/></clipPath><radialGradient id="g46" cx="0.5" cy="0.5" r="0.5"><stop offset="0" stop-color="#6e3c90"/><stop offset="0.55" stop-color="#60378a"/><stop offset="1" stop-color="#483a88" stop-opacity="0.0"/></radialGradient><clipPath id="c13cells"><ellipse cx="410.8" cy="51.5" rx="11.8" ry="10.6" fill="#000"/><ellipse cx="427.8" cy="86.5" rx="12.7" ry="11.2" fill="#000"/><path d="M453.2 46.3 Q455.5 39 464.2 33.8 Q470 33.5 474.5 38.5 Q479 44.5 476.8 50 Q472 55 465.5 53.9 Q456 52.8 453.2 46.3 Z" fill="#000"/><ellipse cx="486.9" cy="61.8" rx="13.0" ry="11.0" fill="#000"/><ellipse cx="471.0" cy="77.7" rx="14.8" ry="10.9" fill="#000" transform="rotate(28 471.0 77.7)"/></clipPath><clipPath id="c17"><rect x="245.8" y="144.4" width="130.2" height="80.2"/></clipPath><radialGradient id="g47" cx="0.5" cy="0.5" r="0.5"><stop offset="0" stop-color="#3a3272"/><stop offset="0.7" stop-color="#393470"/><stop offset="1" stop-color="#4a4c88" stop-opacity="0.6"/></radialGradient><radialGradient id="g48" cx="0.5" cy="0.5" r="0.5"><stop offset="0" stop-color="#473282"/><stop offset="0.65" stop-color="#3c3078"/><stop offset="1" stop-color="#484a88" stop-opacity="0.7"/></radialGradient><radialGradient id="g49" cx="0.5" cy="0.5" r="0.5"><stop offset="0" stop-color="#7a4096" stop-opacity="0.8"/><stop offset="1" stop-color="#7a4096" stop-opacity="0"/></radialGradient><clipPath id="c18"><rect x="393.9" y="144.8" width="126.1" height="79.6"/></clipPath><radialGradient id="g50" cx="0.5" cy="0.5" r="0.5"><stop offset="0" stop-color="#7a3c98"/><stop offset="0.3" stop-color="#603088"/><stop offset="0.75" stop-color="#462a74"/><stop offset="1" stop-color="#4a347c" stop-opacity="0.55"/></radialGradient></defs>
<g clip-path="url(#c7)">
<rect x="246" y="25" width="129" height="87" fill="#fdfcf7"/>
<ellipse cx="262" cy="90" rx="30" ry="28" fill="#f9f3e3" filter="url(#b4)"/>
<ellipse cx="300" cy="112" rx="70" ry="8" fill="#faf5e8" filter="url(#b4)" opacity="0.8"/>
<g filter="url(#b05)">
<path d="M268 25 L292 25 L293 40 L285 52 L275 49 L270 36 Z" fill="#a2a9c8" stroke="#7880a8" stroke-width="0.8"/>
<ellipse cx="279.5" cy="33" rx="4" ry="5" fill="#d0d4e6"/>
<ellipse cx="284" cy="43.5" rx="3" ry="4" fill="#c8cce2"/>
<ellipse cx="287.5" cy="30" rx="2.5" ry="3" fill="#c4c8e0"/>
<ellipse cx="291" cy="21.3" rx="9.0" ry="8" fill="#6c3478" stroke="#46447e" stroke-width="1.2"/>
<ellipse cx="243.6" cy="92.5" rx="6.8" ry="17.5" fill="#9aa4c2" stroke="#66749c" stroke-width="1"/>
<ellipse cx="243.5" cy="92.5" rx="4.8" ry="13.5" fill="#d2d6e2"/>
<ellipse cx="378.6" cy="89.5" rx="6.8" ry="9.5" fill="#8a88c4" stroke="#6068a8" stroke-width="1"/>
<ellipse cx="262.5" cy="63.5" rx="4.2" ry="3.2" fill="#8c94c4" stroke="#6068a0" stroke-width="0.7"/>
<ellipse cx="262.4" cy="44.2" rx="14.0" ry="17.0" fill="#f7f4ee" transform="rotate(-12 262.4 44.2)"/>
<ellipse cx="262.4" cy="44.2" rx="12.7" ry="15.7" fill="url(#g1)" stroke="#5a5a94" stroke-width="1.6" transform="rotate(-12 262.4 44.2)"/>
<g clip-path="url(#cc2)">
<ellipse cx="264.0" cy="41.0" rx="12.0" ry="12.8" fill="url(#g2)" transform="rotate(-12 264.0 41.0)" filter="url(#b05)"/>
<ellipse cx="261.0" cy="38.44" rx="5.4" ry="5.120000000000001" fill="url(#g3)"/>
<ellipse cx="267.6" cy="44.84" rx="4.199999999999999" ry="3.84" fill="url(#g3)"/>
</g>
<ellipse cx="303.3" cy="41.9" rx="16.4" ry="16.0" fill="#f7f4ee"/>
<ellipse cx="303.3" cy="41.9" rx="15.1" ry="14.7" fill="url(#g4)" stroke="#5a5a94" stroke-width="1.6"/>
<g clip-path="url(#cc5)">
<ellipse cx="305.7" cy="44.3" rx="13.6" ry="13.0" fill="url(#g5)" filter="url(#b05)"/>
<ellipse cx="302.3" cy="41.699999999999996" rx="6.12" ry="5.2" fill="url(#g6)"/>
<ellipse cx="309.78" cy="48.199999999999996" rx="4.76" ry="3.9" fill="url(#g6)"/>
</g>
<ellipse cx="281.4" cy="61.8" rx="16.0" ry="15.0" fill="#f7f4ee"/>
<ellipse cx="281.4" cy="61.8" rx="14.7" ry="13.7" fill="url(#g7)" stroke="#5a5a94" stroke-width="1.6"/>
<g clip-path="url(#cc8)">
<ellipse cx="279.4" cy="59.599999999999994" rx="13.6" ry="12.4" fill="url(#g8)" filter="url(#b05)"/>
<ellipse cx="276.0" cy="57.11999999999999" rx="6.12" ry="4.960000000000001" fill="url(#g9)"/>
<ellipse cx="283.47999999999996" cy="63.31999999999999" rx="4.76" ry="3.7199999999999998" fill="url(#g9)"/>
</g>
<ellipse cx="313.2" cy="65.2" rx="15.0" ry="13.4" fill="#f7f4ee" transform="rotate(-12 313.2 65.2)"/>
<ellipse cx="313.2" cy="65.2" rx="13.7" ry="12.1" fill="url(#g10)" stroke="#5a5a94" stroke-width="1.6" transform="rotate(-12 313.2 65.2)"/>
<g clip-path="url(#cc11)">
<ellipse cx="313.8" cy="65.5" rx="13.0" ry="11.5" fill="url(#g11)" transform="rotate(-12 313.8 65.5)" filter="url(#b05)"/>
<ellipse cx="310.55" cy="63.2" rx="5.8500000000000005" ry="4.6000000000000005" fill="url(#g12)"/>
<ellipse cx="317.7" cy="68.95" rx="4.55" ry="3.4499999999999997" fill="url(#g12)"/>
</g>
<ellipse cx="299.1" cy="88.4" rx="14.9" ry="14.5" fill="#f7f4ee"/>
<ellipse cx="299.1" cy="88.4" rx="13.6" ry="13.2" fill="url(#g13)" stroke="#5a5a94" stroke-width="1.6"/>
<g clip-path="url(#cc14)">
<ellipse cx="299.6" cy="92.80000000000001" rx="13.0" ry="10.0" fill="url(#g14)" filter="url(#b05)"/>
<ellipse cx="296.35" cy="90.80000000000001" rx="5.8500000000000005" ry="4.0" fill="url(#g15)"/>
<ellipse cx="303.5" cy="95.80000000000001" rx="4.55" ry="3.0" fill="url(#g15)"/>
</g>
<ellipse cx="297.0" cy="113.4" rx="13.4" ry="14.2" fill="#f7f4ee"/>
<ellipse cx="297.0" cy="113.4" rx="12.1" ry="12.899999999999999" fill="url(#g16)" stroke="#5a5a94" stroke-width="1.6"/>
<g clip-path="url(#cc17)">
<ellipse cx="297.0" cy="114.4" rx="11.6" ry="12.2" fill="url(#g17)" filter="url(#b05)"/>
<ellipse cx="294.1" cy="111.96000000000001" rx="5.22" ry="4.88" fill="url(#g18)"/>
<ellipse cx="300.48" cy="118.06" rx="4.06" ry="3.6599999999999997" fill="url(#g18)"/>
</g>
<ellipse cx="337.2" cy="72.3" rx="11.3" ry="13.4" fill="#f7f4ee"/>
<ellipse cx="337.2" cy="72.3" rx="10.0" ry="12.1" fill="url(#g19)" stroke="#5a5a94" stroke-width="1.6"/>
<g clip-path="url(#cc20)">
<ellipse cx="337.2" cy="76.5" rx="9.8" ry="8.6" fill="url(#g20)" filter="url(#b05)"/>
<ellipse cx="334.75" cy="74.78" rx="4.41" ry="3.44" fill="url(#g21)"/>
<ellipse cx="340.14" cy="79.08" rx="3.43" ry="2.5799999999999996" fill="url(#g21)"/>
</g>
<ellipse cx="361.3" cy="78.7" rx="15.1" ry="15.1" fill="#f7f4ee"/>
<ellipse cx="361.3" cy="78.7" rx="13.799999999999999" ry="13.799999999999999" fill="url(#g22)" stroke="#5a5a94" stroke-width="1.6"/>
<g clip-path="url(#cc23)">
<ellipse cx="362.7" cy="81.3" rx="12.6" ry="11.6" fill="url(#g23)" filter="url(#b05)"/>
<ellipse cx="359.55" cy="78.98" rx="5.67" ry="4.64" fill="url(#g24)"/>
<ellipse cx="366.47999999999996" cy="84.78" rx="4.409999999999999" ry="3.48" fill="url(#g24)"/>
</g>
<ellipse cx="324.9" cy="91.5" rx="11.1" ry="11.3" fill="#f7f4ee"/>
<ellipse cx="324.9" cy="91.5" rx="9.799999999999999" ry="10.0" fill="url(#g25)" stroke="#5a5a94" stroke-width="1.6"/>
<g clip-path="url(#cc26)">
<ellipse cx="324.09999999999997" cy="91.5" rx="9.2" ry="9.4" fill="url(#g26)" filter="url(#b05)"/>
<ellipse cx="321.79999999999995" cy="89.62" rx="4.14" ry="3.7600000000000002" fill="url(#g27)"/>
<ellipse cx="326.85999999999996" cy="94.32" rx="3.2199999999999998" ry="2.82" fill="url(#g27)"/>
</g>
<ellipse cx="353.2" cy="105.0" rx="16.0" ry="14.0" fill="#f7f4ee"/>
<ellipse cx="353.2" cy="105.0" rx="14.7" ry="12.7" fill="url(#g28)" stroke="#5a5a94" stroke-width="1.6"/>
<g clip-path="url(#cc29)">
<ellipse cx="350.0" cy="105.2" rx="12.4" ry="11.8" fill="url(#g29)" filter="url(#b05)"/>
<ellipse cx="346.9" cy="102.84" rx="5.58" ry="4.720000000000001" fill="url(#g30)"/>
<ellipse cx="353.72" cy="108.74000000000001" rx="4.34" ry="3.54" fill="url(#g30)"/>
</g>
<ellipse cx="257.4" cy="114.6" rx="10.0" ry="9.4" fill="#f7f4ee"/>
<ellipse cx="257.4" cy="114.6" rx="8.7" ry="8.1" fill="url(#g31)" stroke="#5a5a94" stroke-width="1.6"/>
<g clip-path="url(#cc32)">
<ellipse cx="257.4" cy="114.6" rx="8.2" ry="7.8" fill="url(#g32)" filter="url(#b05)"/>
<ellipse cx="255.34999999999997" cy="113.03999999999999" rx="3.69" ry="3.12" fill="url(#g33)"/>
<ellipse cx="259.85999999999996" cy="116.94" rx="2.8699999999999997" ry="2.34" fill="url(#g33)"/>
</g>
<ellipse cx="331.0" cy="115.0" rx="8.5" ry="8.0" fill="#f7f4ee"/>
<ellipse cx="331.0" cy="115.0" rx="7.2" ry="6.7" fill="url(#g34)" stroke="#5a5a94" stroke-width="1.6"/>
<g clip-path="url(#cc35)">
<ellipse cx="331.0" cy="115.0" rx="7.0" ry="6.4" fill="url(#g35)" filter="url(#b05)"/>
<ellipse cx="329.25" cy="113.72" rx="3.15" ry="2.5600000000000005" fill="url(#g36)"/>
<ellipse cx="333.1" cy="116.92" rx="2.4499999999999997" ry="1.92" fill="url(#g36)"/>
</g>
<circle cx="331.5" cy="63.1" r="1.6" fill="#c4c8de" stroke="#6c6ca0" stroke-width="0.6"/><circle cx="336.5" cy="60.4" r="1.5" fill="#c4c8de" stroke="#6c6ca0" stroke-width="0.6"/><circle cx="341.5" cy="61.6" r="1.5" fill="#c4c8de" stroke="#6c6ca0" stroke-width="0.6"/><circle cx="346.2" cy="68" r="1.5" fill="#b4b8d8" stroke="#6c6ca0" stroke-width="0.6"/>
</g>
<g clip-path="url(#c7cells)"><rect x="246" y="25" width="130" height="87" fill="#fff" filter="url(#noise)"/></g>
<rect x="261.4" y="98.5" width="6.4" height="1.4" fill="#111"/>
</g>
<g clip-path="url(#c13)">
<rect x="391" y="25" width="127" height="87" fill="#f7f5f0"/>
<g filter="url(#b05)">
<ellipse cx="410.8" cy="51.5" rx="11.8" ry="10.6" fill="none" stroke="#86b0e0" stroke-width="2.8" opacity="0.6"/>
<ellipse cx="410.8" cy="51.5" rx="11.8" ry="10.6" fill="url(#g37)" stroke="#36367e" stroke-width="0.9"/>
<g clip-path="url(#ck37)">
<rect x="376.5" y="6.0" width="80" height="40" fill="#7470b0" transform="rotate(40 416.5 46.0)" filter="url(#b05)"/>
<ellipse cx="409.3" cy="53.0" rx="9.5" ry="8.6" fill="url(#g38)"/>
</g>
<ellipse cx="427.8" cy="86.5" rx="12.7" ry="11.2" fill="none" stroke="#86b0e0" stroke-width="2.8" opacity="0.6"/>
<ellipse cx="427.8" cy="86.5" rx="12.7" ry="11.2" fill="url(#g39)" stroke="#36367e" stroke-width="0.9"/>
<g clip-path="url(#ck39)">
<rect x="380.6" y="49.5" width="80" height="40" fill="#7a76b8" transform="rotate(-115 420.6 89.5)" filter="url(#b05)"/>
<ellipse cx="429.8" cy="86.0" rx="10" ry="8.8" fill="url(#g40)"/>
</g>
<path d="M453.2 46.3 Q455.5 39 464.2 33.8 Q470 33.5 474.5 38.5 Q479 44.5 476.8 50 Q472 55 465.5 53.9 Q456 52.8 453.2 46.3 Z" fill="none" stroke="#86b0e0" stroke-width="2.8" opacity="0.6"/>
<path d="M453.2 46.3 Q455.5 39 464.2 33.8 Q470 33.5 474.5 38.5 Q479 44.5 476.8 50 Q472 55 465.5 53.9 Q456 52.8 453.2 46.3 Z" fill="url(#g41)" stroke="#36367e" stroke-width="0.9"/>
<g clip-path="url(#ck41)">
<rect x="425" y="2.200000000000003" width="80" height="40" fill="#8682c0" transform="rotate(-9 465 42.2)" filter="url(#b05)"/>
<ellipse cx="466.5" cy="48.0" rx="9.5" ry="5.5" fill="url(#g42)" transform="rotate(-8 466.5 48.0)"/>
</g>
<ellipse cx="486.9" cy="61.8" rx="13.0" ry="11.0" fill="none" stroke="#86b0e0" stroke-width="2.8" opacity="0.6"/>
<ellipse cx="486.9" cy="61.8" rx="13.0" ry="11.0" fill="url(#g43)" stroke="#36367e" stroke-width="0.9"/>
<g clip-path="url(#ck43)">
<rect x="455.5" y="21" width="80" height="40" fill="#6c6ab2" transform="rotate(100 495.5 61)" filter="url(#b05)"/>
<ellipse cx="484.9" cy="62.3" rx="9.5" ry="8.5" fill="url(#g44)"/>
</g>
<ellipse cx="471.0" cy="77.7" rx="14.8" ry="10.9" fill="none" transform="rotate(28 471.0 77.7)" stroke="#86b0e0" stroke-width="2.8" opacity="0.6"/>
<ellipse cx="471.0" cy="77.7" rx="14.8" ry="10.9" fill="url(#g45)" transform="rotate(28 471.0 77.7)" stroke="#36367e" stroke-width="0.9"/>
<g clip-path="url(#ck45)">
<rect x="427.5" y="34.5" width="80" height="40" fill="#8a86c4" transform="rotate(-27 467.5 74.5)" filter="url(#b05)"/>
<ellipse cx="474.0" cy="80.3" rx="10.5" ry="7.6" fill="url(#g46)" transform="rotate(28 474.0 80.3)"/>
</g>
<path d="M457.5 66.5 l-1.8 -2.2 M461 64.4 l-0.8 -2 M455.8 82.5 l-1.8 1.2 M476.5 50.8 l1.8 1.8" stroke="#4a4a9c" stroke-width="0.9" fill="none"/>
<g clip-path="url(#c13cells)" opacity="0.55"><rect x="391" y="25" width="127" height="87" fill="#fff" filter="url(#noise)"/></g>
<circle cx="501.3" cy="27.9" r="0.9" fill="#6a6a80"/>
</g>
<circle cx="437" cy="48" r="0.8" fill="#e8c8d0" opacity="0.7"/>
<circle cx="441" cy="61" r="0.8" fill="#e8c8d0" opacity="0.7"/>
<circle cx="436" cy="73" r="0.8" fill="#e8c8d0" opacity="0.7"/>
<circle cx="449" cy="52" r="0.8" fill="#e8c8d0" opacity="0.7"/>
<circle cx="497" cy="82" r="0.8" fill="#e8c8d0" opacity="0.7"/>
<circle cx="503" cy="75" r="0.8" fill="#e8c8d0" opacity="0.7"/>
<circle cx="508" cy="96" r="0.8" fill="#e8c8d0" opacity="0.7"/>
<circle cx="432" cy="100" r="0.8" fill="#e8c8d0" opacity="0.7"/>
<rect x="401.2" y="103.0" width="9.0" height="1.4" fill="#111"/>
</g>
<g clip-path="url(#c17)">
<rect x="245" y="144" width="132" height="82" fill="#fcf4e4"/>
<g filter="url(#b05)">
<ellipse cx="267.6" cy="166.6" rx="14.6" ry="9.5" fill="#7e94b0" stroke="#647a9e" stroke-width="1.2" transform="rotate(9 267.6 166.6)"/>
<ellipse cx="273.6" cy="168.0" rx="6.6" ry="5.2" fill="#a9b8be" transform="rotate(9 273.6 168.0)"/>
<ellipse cx="275.6" cy="168.6" rx="4.0" ry="3.2" fill="#c0cac4" transform="rotate(9 275.6 168.6)"/>
<ellipse cx="262.5" cy="164.9" rx="8.9" ry="7.3" fill="url(#g47)" filter="url(#b05)"/>
<circle cx="247.7" cy="171.3" r="1.3" fill="#4a4038"/><circle cx="251.8" cy="175.7" r="1.3" fill="#4a4038"/>
<path d="M303.2 178.4 Q306 172.5 314 171 Q322 169.6 326.5 173.5 Q329.3 178.5 326.5 184 Q322 188.6 314 187.4 Q306.5 185.6 303.2 178.4 Z" fill="#7e8eaa" stroke="#66789e" stroke-width="1"/>
<path d="M307 178.6 Q310 175 316 174.2 Q322 173.8 324 176.5 Q325.3 179.8 323 182.8 Q319 185.2 313.5 184 Q309 182.5 307 178.6 Z" fill="#c9c2c6"/>
<ellipse cx="317.5" cy="179.0" rx="5.2" ry="2.9" fill="#e0d1c8" transform="rotate(-8 317.5 179.0)"/>
<g filter="url(#b05)">
<ellipse cx="291.2" cy="177.4" rx="6.5" ry="5.6" fill="#383272"/>
<ellipse cx="298.0" cy="176.2" rx="6.2" ry="5.4" fill="#363070"/>
<ellipse cx="295.0" cy="180.0" rx="5.6" ry="3.6" fill="#3a3474"/>
</g>
<path d="M293.4 204.2 Q296 196.2 304 194.1 Q313 193 318.6 197.6 Q321.6 203 319.2 208.2 Q314 212.8 305 212.1 Q297 210.8 293.4 204.2 Z" fill="#7e94ae" stroke="#647a9e" stroke-width="1.1"/>
<ellipse cx="299.0" cy="203.6" rx="2.6" ry="4.6" fill="#a6babc"/>
<ellipse cx="308.7" cy="203.7" rx="9.4" ry="7.3" fill="url(#g48)" filter="url(#b05)"/>
<ellipse cx="303.5" cy="204.5" rx="2.4" ry="3.0" fill="url(#g49)"/>
<circle cx="287.4" cy="204.3" r="0.8" fill="#e0a0a0"/>
</g>
<rect x="252.2" y="213.9" width="13.8" height="1.5" fill="#111"/>
</g>
<g clip-path="url(#c18)">
<rect x="393" y="144.5" width="128" height="82" fill="#fcf6e8"/>
<ellipse cx="415" cy="146" rx="40" ry="5.5" fill="#ddd0e4" filter="url(#b2)" opacity="0.9"/>
<ellipse cx="399" cy="186" rx="15" ry="32" fill="#e6d8e4" filter="url(#b4)" opacity="0.95"/>
<ellipse cx="407" cy="192" rx="17" ry="17" fill="#d6c4dc" filter="url(#b4)" opacity="0.9"/>
<ellipse cx="408.5" cy="194.5" rx="10.5" ry="10.5" fill="#b9a3cd" filter="url(#b2)" opacity="0.9"/>
<ellipse cx="410" cy="189" rx="8" ry="5" fill="#ab94c5" filter="url(#b1)" opacity="0.6"/>
<g filter="url(#b05)">
<ellipse cx="393.0" cy="145.5" rx="11.2" ry="12.4" fill="#c2b8d2" stroke="#6e6e94" stroke-width="1.9"/>
<circle cx="416.7" cy="195" r="1.6" fill="#76569c" opacity="0.7"/><circle cx="408.3" cy="193.4" r="1.3" fill="#7a5aa0" opacity="0.55"/><circle cx="400.7" cy="195.7" r="1.3" fill="#8868a8" opacity="0.5"/><circle cx="412" cy="201" r="1.2" fill="#8868a8" opacity="0.4"/>
<path d="M398.6 177 Q397.6 170 403 166.8 Q410 164.2 417 165.4 Q422.4 166.5 423 172 Q424 181 418 184.2 Q409 186.5 402.5 183.6 Q399 181.5 398.6 177 Z" fill="#ebe5dc" stroke="#74745a" stroke-width="1.1"/>
<ellipse cx="416.0" cy="177.8" rx="8.5" ry="8.3" fill="url(#g50)" filter="url(#b05)"/>
</g>
<g filter="url(#b05)">
<path d="M492.6 160 Q491.6 152 498.5 149 Q506 146.8 512.8 151 Q518 156 517 163.5 Q515 171 506.8 172.4 Q499.8 172.6 496.6 167.8 Q497.4 164.6 495.4 162.6 Q493 161.5 492.6 160 Z" fill="#f4f0e9" stroke="#beb6a6" stroke-width="1.5"/>
<ellipse cx="501.0" cy="204.0" rx="11.6" ry="12.0" fill="#faf4e6" stroke="#b8b0a0" stroke-width="1.5"/>
<circle cx="499.3" cy="196.3" r="0.8" fill="#a09888"/><circle cx="500.2" cy="205.5" r="1.4" fill="#ecdfc6"/>
</g>
<rect x="402.5" y="206.9" width="18.3" height="1.5" fill="#111"/>
</g>
<text x="262.1" y="125.5" font-family='"Liberation Serif", serif' font-weight="bold" font-size="15.5" text-anchor="start" textLength="42.2" lengthAdjust="spacingAndGlyphs">Day 7</text>
<text x="401.4" y="125.5" font-family='"Liberation Serif", serif' font-weight="bold" font-size="15.5" text-anchor="start" textLength="51.7" lengthAdjust="spacingAndGlyphs">Day 13</text>
<text x="262.8" y="240.8" font-family='"Liberation Serif", serif' font-weight="bold" font-size="15.5" text-anchor="start" textLength="51.6" lengthAdjust="spacingAndGlyphs">Day 17</text>
<text x="401.4" y="239.9" font-family='"Liberation Serif", serif' font-weight="bold" font-size="15.5" text-anchor="start" textLength="51.9" lengthAdjust="spacingAndGlyphs">Day 18</text>
</g>
</svg>
</body></html>
